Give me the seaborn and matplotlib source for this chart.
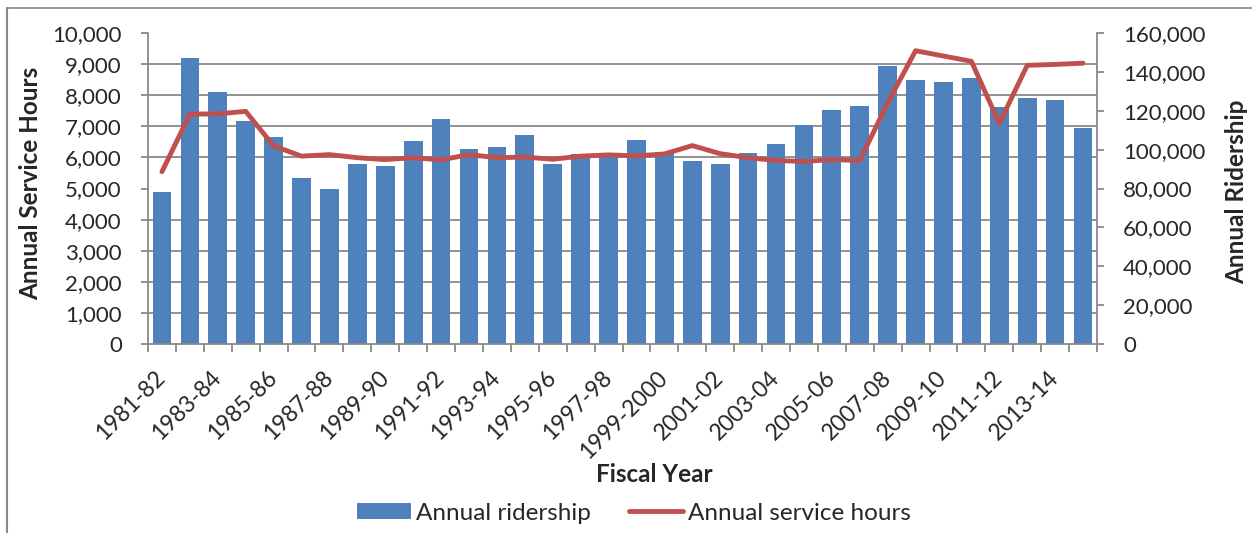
import numpy as np
import matplotlib
matplotlib.use("Agg")
import matplotlib.pyplot as plt
from matplotlib.ticker import FuncFormatter, MultipleLocator
from matplotlib.lines import Line2D
from matplotlib.patches import Patch
import seaborn as sns

# Fiscal years and the two series
years = [
    "1981-82", "1982-83", "1983-84", "1984-85", "1985-86", "1986-87",
    "1987-88", "1988-89", "1989-90", "1990-91", "1991-92", "1992-93",
    "1993-94", "1994-95", "1995-96", "1996-97", "1997-98", "1998-99",
    "1999-2000", "2000-01", "2001-02", "2002-03", "2003-04", "2004-05",
    "2005-06", "2006-07", "2007-08", "2008-09", "2009-10", "2010-11",
    "2011-12", "2012-13", "2013-14", "2014-15",
]
ridership = [
    78300, 147000, 129900, 114800, 106400, 85500, 79800, 92500, 91800,
    104300, 116000, 100200, 101200, 107600, 92800, 98000, 97100, 105000,
    99000, 94000, 92500, 98200, 103100, 112700, 120400, 122300, 142900,
    136000, 134800, 136900, 122000, 126400, 125400, 111200,
]
service_hours = [
    5540, 7390, 7400, 7480, 6370, 6040, 6090, 5990, 5930, 5990, 5920,
    6090, 5990, 6010, 5940, 6040, 6080, 6050, 6110, 6380, 6120, 5990,
    5900, 5870, 5930, 5900, 7750, 9430, 9260, 9090, 7090, 8960, 8990, 9030,
]

hours_max = 10000
riders_max = 160000

sns.set_style("white")
plt.rcParams["font.family"] = ["Lato", "DejaVu Sans"]
plt.rcParams["font.size"] = 16

BAR_BLUE = "#4F81BD"
LINE_RED = "#C0504D"
AXIS_GRAY = "#898989"
TICK_FS = 16
XTICK_FS = 16.5
TITLE_FS = 17.5

fig = plt.figure(figsize=(12.52, 5.33), dpi=100)
ax_bar = fig.add_axes([148 / 1252, 1 - 344 / 533, 949 / 1252, 311 / 533])
ax_line = ax_bar.twinx()

# Ridership bars on the right-hand scale
sns.barplot(x=years, y=ridership, ax=ax_bar, color=BAR_BLUE,
            saturation=1, width=0.67, edgecolor="none")
# Service hours line on the left-hand scale
positions = np.arange(len(years))
sns.lineplot(x=positions, y=service_hours, ax=ax_line, color=LINE_RED,
             lw=3.5, solid_joinstyle="round", solid_capstyle="round")

n = len(years)
ax_bar.set_xlim(-0.5, n - 0.5)
ax_bar.set_ylim(0, riders_max)
ax_line.set_ylim(0, hours_max)

comma = FuncFormatter(lambda v, p: f"{int(v):,}")

# Right axis: ridership
ax_bar.yaxis.tick_right()
ax_bar.yaxis.set_label_position("right")
ax_bar.yaxis.set_major_locator(MultipleLocator(20000))
ax_bar.yaxis.set_major_formatter(comma)
ax_bar.set_ylabel("Annual Ridership", fontweight="bold", fontsize=TITLE_FS)
ax_bar.yaxis.set_label_coords(1.135, 0.49)

# Horizontal gridlines follow the 1,000-hour steps of the left axis
ax_bar.yaxis.set_minor_locator(MultipleLocator(riders_max / (hours_max / 1000)))
ax_bar.grid(which="minor", axis="y", color=AXIS_GRAY, lw=1.3)
ax_bar.grid(which="major", visible=False)
ax_bar.set_axisbelow(True)

# Left axis: service hours
ax_line.yaxis.tick_left()
ax_line.yaxis.set_label_position("left")
ax_line.yaxis.set_major_locator(MultipleLocator(1000))
ax_line.yaxis.set_major_formatter(comma)
ax_line.set_ylabel("Annual Service Hours", fontweight="bold", fontsize=TITLE_FS)
ax_line.yaxis.set_label_coords(-0.1117, 0.518)
ax_line.grid(False)

# Category axis: tick marks between categories, labels on every other one
ax_bar.set_xticks(positions[::2])
ax_bar.set_xticklabels(years[::2], rotation=45, ha="right", va="center",
                       rotation_mode="anchor")
ax_bar.set_xticks(np.arange(n + 1) - 0.5, minor=True)
ax_bar.tick_params(axis="x", which="major", length=0, pad=22, labelsize=XTICK_FS)
ax_bar.tick_params(axis="x", which="minor", length=6, width=1.3,
                   color=AXIS_GRAY, direction="out", bottom=True)
ax_bar.set_xlabel("Fiscal Year", fontweight="bold", fontsize=TITLE_FS)
ax_bar.xaxis.set_label_coords(0.534, -0.383)

ax_bar.tick_params(axis="y", which="major", length=4.8, width=1.3,
                   color=AXIS_GRAY, direction="out", right=True, left=False,
                   labelsize=TICK_FS, pad=14)
ax_bar.tick_params(axis="y", which="minor", length=0)
ax_line.tick_params(axis="y", length=4.8, width=1.3, color=AXIS_GRAY,
                    direction="out", left=True, right=False,
                    labelsize=TICK_FS, pad=14)

for side in ["top", "left"]:
    ax_bar.spines[side].set_visible(False)
for side in ["right", "bottom"]:
    ax_bar.spines[side].set_color(AXIS_GRAY)
    ax_bar.spines[side].set_linewidth(1.3)
for side in ["top", "right", "bottom"]:
    ax_line.spines[side].set_visible(False)
ax_line.spines["left"].set_color(AXIS_GRAY)
ax_line.spines["left"].set_linewidth(1.3)

# Legend below the chart
handles = [
    Patch(facecolor=BAR_BLUE, edgecolor="none", label="Annual ridership"),
    Line2D([0], [0], color=LINE_RED, lw=3.5, label="Annual service hours"),
]
fig.legend(handles=handles, loc="center", ncol=2, frameon=False,
           bbox_to_anchor=(634 / 1252, 1 - 513 / 533), fontsize=TITLE_FS,
           handlelength=2.2, handleheight=0.65, columnspacing=1.6,
           handletextpad=0.2)

# Chart frame
fig.add_artist(Line2D([7 / 1252, 1], [1 - 8 / 533, 1 - 8 / 533],
                      transform=fig.transFigure, color=AXIS_GRAY, lw=1.2))
fig.add_artist(Line2D([7 / 1252, 7 / 1252], [0, 1 - 8 / 533],
                      transform=fig.transFigure, color=AXIS_GRAY, lw=1.5))

fig.savefig("out.png", dpi=100)
